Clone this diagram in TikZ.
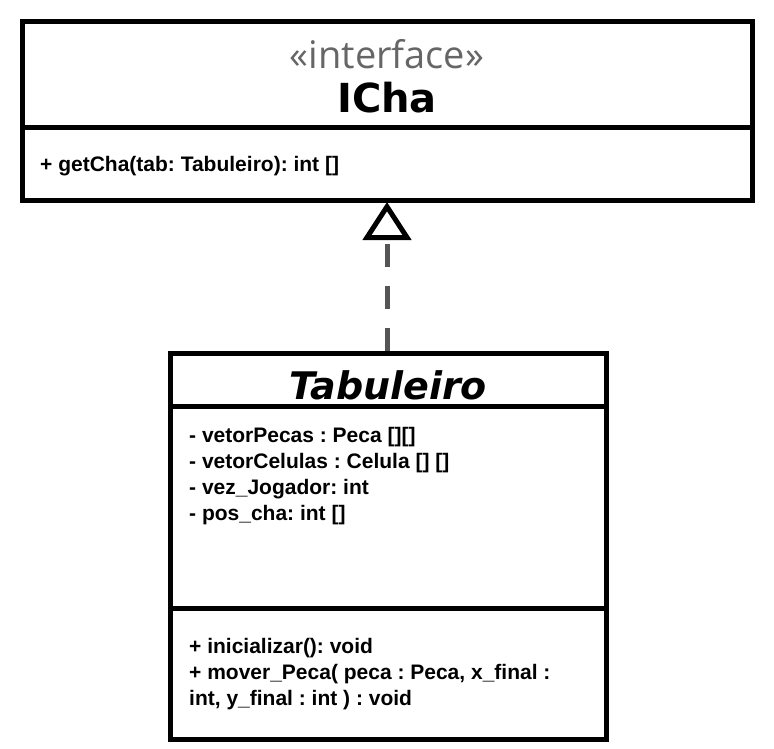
\documentclass[tikz,border=0pt]{standalone}
\usepackage{fontspec}
\setmainfont{Liberation Sans}
\newfontfamily\dvs{DejaVu Sans}
\newfontfamily\opens{Open Sans}
\usetikzlibrary{arrows.meta}
\frenchspacing
\definecolor{stereo}{HTML}{666666}
\definecolor{dashc}{HTML}{555555}
\tikzset{
  umlbox/.style={draw=black, line width=5pt, fill=white},
  divider/.style={draw=black, line width=5pt},
  member/.style={anchor=west, inner sep=0pt, font=\fontsize{21}{24}\selectfont\bfseries\frenchspacing},
  realize/.style={draw=dashc, line width=5pt, dash pattern=on 23pt off 19pt,
     -{Triangle[open, length=38pt, width=48pt, line width=5pt, color=black, fill=white]}}
}
\begin{document}
\begin{tikzpicture}[x=1pt,y=-1pt]
\useasboundingbox (0,0) rectangle (774,749);
\fill[white] (0,0) rectangle (774,749);
% interface box
\draw[umlbox] (22,22) rectangle (752,200);
\draw[divider] (22,128) -- (752,128);
\coordinate (ichaB) at (387,202);
\node[inner sep=0pt, text=stereo, font=\opens\fontsize{38}{44}\selectfont] (stereo) at (387,54) {«interface»};
\node[inner sep=0pt, font=\dvs\fontsize{40}{46}\selectfont\bfseries] (icha) at (387,98) {ICha};
\node[member] (m1) at (40,166) {+ getCha(tab: Tabuleiro): int []};
% Tabuleiro box
\draw[umlbox] (170,353) rectangle (606,739);
\draw[divider] (170,406) -- (606,406);
\draw[divider] (170,608) -- (606,608);
\coordinate (tabT) at (387,351);
\node[inner sep=0pt, font=\dvs\fontsize{38}{44}\selectfont\bfseries\itshape] (tab) at (388,385) {Tabuleiro};
\node[member] (a1) at (189,437) {- vetorPecas : Peca [][]};
\node[member] (a2) at (189,463) {- vetorCelulas : Celula [] []};
\node[member] (a3) at (189,489) {- vez\_Jogador: int};
\node[member] (a4) at (189,515) {- pos\_cha: int []};
\node[member] (o1) at (189,648) {+ inicializar(): void};
\node[member] (o2) at (189,674) {+ mover\_Peca( peca : Peca, x\_final :};
\node[member] (o3) at (189,700) {int, y\_final : int ) : void};
% realization
\draw[realize] (tabT) -- (ichaB);
\end{tikzpicture}
\end{document}
